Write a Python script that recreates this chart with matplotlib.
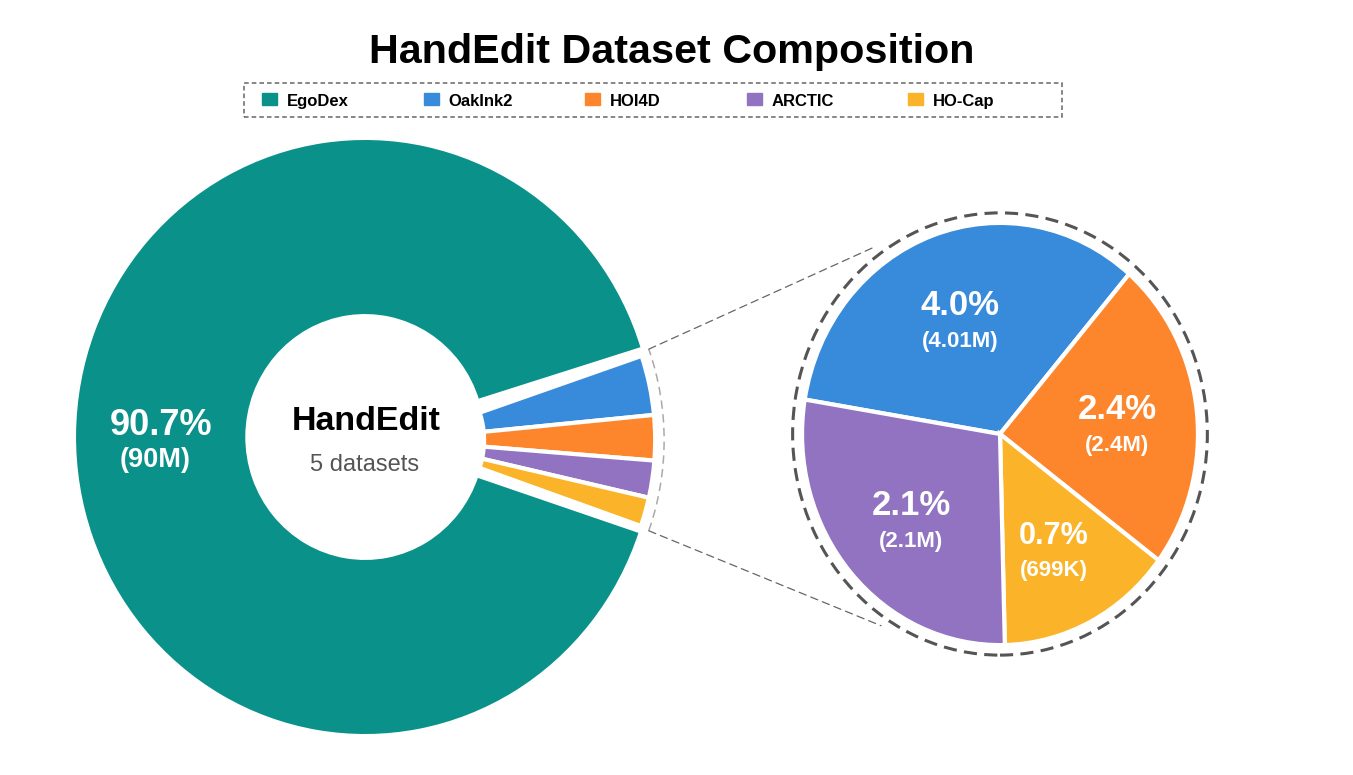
import numpy as np
import matplotlib
matplotlib.use("Agg")
import matplotlib.pyplot as plt
from matplotlib.patches import Rectangle, Circle, Arc, ConnectionPatch

plt.rcParams['font.family'] = ['Liberation Sans', 'DejaVu Sans']

W, H = 1353, 775

# --- data ---
names = ['EgoDex', 'OakInk2', 'HOI4D', 'ARCTIC', 'HO-Cap']
counts_m = [90, 4.01, 2.4, 2.1, 0.699]          # samples, millions
colors = ['#09918a', '#388bdb', '#fd862d', '#9173c2', '#fbb429']
# angular share of each slice as drawn (percent of a full turn)
ring_share = [90.1, 3.7, 2.8, 2.3, 1.8]
zoom_share = [33.7, 23.9, 28.0, 14.4]           # OakInk2, HOI4D, ARCTIC, HO-Cap
zoom_order = [0, 1, 3, 2]                       # clockwise order in the zoom pie

total = sum(counts_m)
pcts = [c / total * 100 for c in counts_m]


def count_label(v):
    return f"({v * 1000:.0f}K)" if v < 1 else f"({v:g}M)"


def px_axes(cx, cy, ux, uy, hw, hh):
    # axes whose data origin sits at pixel (cx, cy), 1 unit = ux / uy pixels
    ax = fig.add_axes([(cx - hw * ux) / W, (H - cy - hh * uy) / H,
                       2 * hw * ux / W, 2 * hh * uy / H])
    ax._lims = (hw, hh)
    return ax


def fix(ax):
    hw, hh = ax._lims
    ax.set_aspect('auto')
    ax.set_xlim(-hw, hw)
    ax.set_ylim(-hh, hh)
    ax.axis('off')


fig = plt.figure(figsize=(W / 100, H / 100), dpi=100)

# --- main donut ---
ax1 = px_axes(365, 437, 289, 297, 1.25, 1.2)
wt, _ = ax1.pie([ring_share[0] / 100], normalize=False, startangle=17.2,
                colors=[colors[0]], radius=1.007,
                wedgeprops=dict(width=0.60, edgecolor='white', linewidth=3))
small_c = (0.128, -0.010)
ws, _ = ax1.pie([s / 100 for s in ring_share[1:]], normalize=False,
                counterclock=False, startangle=18.85, colors=colors[1:],
                radius=0.876, center=small_c,
                wedgeprops=dict(width=0.592, edgecolor='white', linewidth=3))
fix(ax1)

mid = np.deg2rad((wt[0].theta1 + wt[0].theta2) / 2)
p = (0.716 * np.cos(mid), 0.716 * np.sin(mid))
ax1.annotate(f"{pcts[0]:.1f}%", p, xytext=(2, 0), textcoords='offset points',
             ha='center', va='baseline', fontsize=26, weight='bold', color='white')
ax1.annotate(count_label(counts_m[0]), p, xytext=(-2, -23.5), textcoords='offset points',
             ha='center', va='baseline', fontsize=19.5, weight='bold', color='white')

ax1.annotate("HandEdit", (0, 0), xytext=(1, 5), textcoords='offset points',
             ha='center', va='baseline', fontsize=24.5, weight='bold', color='black')
ax1.annotate(f"{len(names)} datasets", (0, 0), xytext=(0, -24.5), textcoords='offset points',
             ha='center', va='baseline', fontsize=17, color='#555555')

arc_r, arc_a = 0.907, 19.7
ax1.add_patch(Arc(small_c, 2 * arc_r, 2 * arc_r, theta1=-arc_a, theta2=arc_a,
                  color='#aaaaaa', lw=1.1, ls=(0, (5.5, 3.5)), clip_on=False))

# --- zoom pie ---
ax2 = px_axes(1000, 434, 196, 209, 1.2, 1.2)
wz, _ = ax2.pie([zoom_share[k] for k in zoom_order], counterclock=False,
                startangle=170.6, colors=[colors[k + 1] for k in zoom_order],
                radius=1.01, wedgeprops=dict(edgecolor='white', linewidth=3))
fix(ax2)

for w, k in zip(wz, zoom_order):
    i = k + 1
    m = np.deg2rad((w.theta1 + w.theta2) / 2)
    p = (0.6 * np.cos(m), 0.6 * np.sin(m) - 0.03)
    size = 22 if zoom_share[k] < 20 else 25
    ax2.annotate(f"{pcts[i]:.1f}%", p, xytext=(0, 5.5), textcoords='offset points',
                 ha='center', va='baseline', fontsize=size, weight='bold', color='white')
    ax2.annotate(count_label(counts_m[i]), p, xytext=(0, -17.5), textcoords='offset points',
                 ha='center', va='baseline', fontsize=16, weight='bold', color='white')

ax2.add_patch(Circle((0, 0), 1.058, fill=False, ec='#555555', lw=2.2,
                     ls=(0, (4.3, 2.4)), clip_on=False))

# connector lines
for a_left, a_right in [(arc_a, 125.5), (-arc_a, 236.5)]:
    ra, rb = np.deg2rad(a_left), np.deg2rad(a_right)
    xa = (small_c[0] + arc_r * np.cos(ra), small_c[1] + arc_r * np.sin(ra))
    xb = (1.1 * np.cos(rb), 1.1 * np.sin(rb))
    con = ConnectionPatch(xa, xb, coordsA=ax1.transData, coordsB=ax2.transData,
                          color='#666666', lw=0.9, ls=(0, (6, 4)))
    fig.add_artist(con)

# --- title ---
fig.text(672 / W, 1 - 63 / H, "HandEdit Dataset Composition", ha='center',
         va='baseline', fontsize=29.7, weight='bold')

# --- legend ---
axl = fig.add_axes([244 / W, 1 - 117 / H, 818 / W, 34 / H])
axl.set_xlim(0, 818)
axl.set_ylim(0, 34)
axl.axis('off')
axl.add_patch(Rectangle((0, 0), 818, 34, fill=False, ec='#666666', lw=1.1,
                        ls=(0, (3, 2)), clip_on=False))
for i, (n, c) in enumerate(zip(names, colors)):
    axl.add_patch(Rectangle((18 + i * 161.5, 12), 15, 12, color=c))
    axl.text(43 + i * 161.5, 11, n, fontsize=12, weight='bold', va='baseline')

fig.savefig("out.png", dpi=100)
